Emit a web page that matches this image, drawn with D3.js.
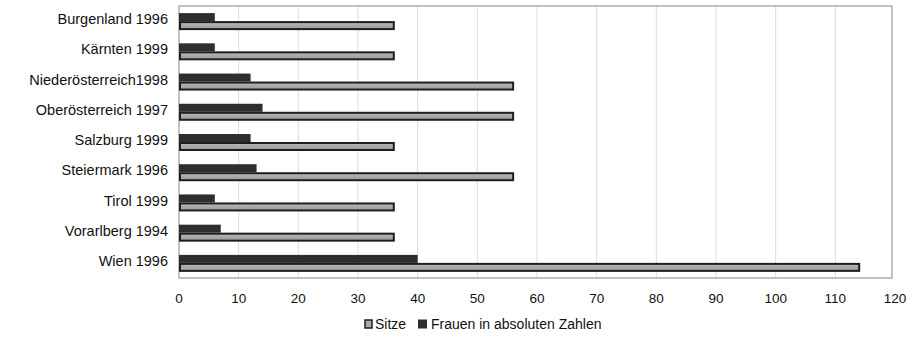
<!DOCTYPE html>
<html><head><meta charset="utf-8">
<script src="https://cdn.jsdelivr.net/npm/d3@7"></script>
<style>body{margin:0;background:#fff;} text{font-family:"Liberation Sans",Arial,sans-serif;}</style>
</head><body>
<svg id="c" width="920" height="347"></svg>
<script>
const categories = ["Burgenland 1996","Kärnten 1999","Niederösterreich1998","Oberösterreich 1997","Salzburg 1999","Steiermark 1996","Tirol 1999","Vorarlberg 1994","Wien 1996"];
const sitze = [36,36,56,56,36,56,36,36,114];
const frauen = [6,6,12,14,12,13,6,7,40];
const xTicks = [0,10,20,30,40,50,60,70,80,90,100,110,120];
const seriesNames = ["Sitze","Frauen in absoluten Zahlen"];

const svg = d3.select("#c");
const m = {left:179, right:892, top:6, bottom:278};
const x = d3.scaleLinear().domain([0,120]).range([m.left, m.left + (m.right-m.left)*120/119.5]);
const y = d3.scaleBand().domain(categories).range([m.top, m.bottom]);

const defs = svg.append("defs");
const g1 = defs.append("linearGradient").attr("id","gs").attr("x1",0).attr("x2",0).attr("y1",0).attr("y2",1);
g1.append("stop").attr("offset","0%").attr("stop-color","#b8b8b8");
g1.append("stop").attr("offset","100%").attr("stop-color","#9a9a9a");

// grid
svg.append("g").selectAll("line").data(xTicks.slice(1,-1)).join("line")
  .attr("x1",d=>x(d)).attr("x2",d=>x(d)).attr("y1",m.top).attr("y2",m.bottom)
  .attr("stroke","#dcdcdc").attr("stroke-width",1);

// frame
svg.append("rect").attr("x",m.left).attr("y",m.top).attr("width",m.right-m.left).attr("height",m.bottom-m.top)
  .attr("fill","none").attr("stroke","#9a9a9a").attr("stroke-width",1.2);

const bh = 8;
// Frauen bars (top)
svg.append("g").selectAll("rect").data(frauen).join("rect")
  .attr("x",x(0)).attr("y",(d,i)=>y(categories[i])+y.bandwidth()/2-bh)
  .attr("width",d=>x(d)-x(0)).attr("height",bh)
  .attr("fill","#2e2e2e");
// Sitze bars (bottom)
svg.append("g").selectAll("rect").data(sitze).join("rect")
  .attr("x",x(0)+1).attr("y",(d,i)=>y(categories[i])+y.bandwidth()/2+1)
  .attr("width",d=>x(d)-x(0)-1).attr("height",bh-1)
  .attr("fill","url(#gs)").attr("stroke","#1e1e1e").attr("stroke-width",2);

// y labels
svg.append("g").selectAll("text").data(categories).join("text")
  .attr("x",168).attr("y",d=>y(d)+y.bandwidth()/2-2).attr("dy","0.35em")
  .attr("text-anchor","end").attr("font-size",14.5).attr("fill","#111").text(d=>d);

// x axis labels
svg.append("g").selectAll("text").data(xTicks).join("text")
  .attr("x",d=>x(d)).attr("y",298).attr("dy","0.35em")
  .attr("text-anchor","middle").attr("font-size",13.5).attr("fill","#111").text(d=>d);

// legend
const lg = svg.append("g");
lg.append("rect").attr("x",365).attr("y",320).attr("width",7).attr("height",8)
  .attr("fill","#aaa").attr("stroke","#1e1e1e").attr("stroke-width",1.5);
lg.append("text").attr("x",375).attr("y",324.5).attr("dy","0.35em").attr("font-size",14).attr("fill","#111").text(seriesNames[0]);
lg.append("rect").attr("x",418).attr("y",319.5).attr("width",9).attr("height",9).attr("fill","#2e2e2e");
lg.append("text").attr("x",431).attr("y",324.5).attr("dy","0.35em").attr("font-size",14).attr("fill","#111").text(seriesNames[1]);
</script>
</body></html>
